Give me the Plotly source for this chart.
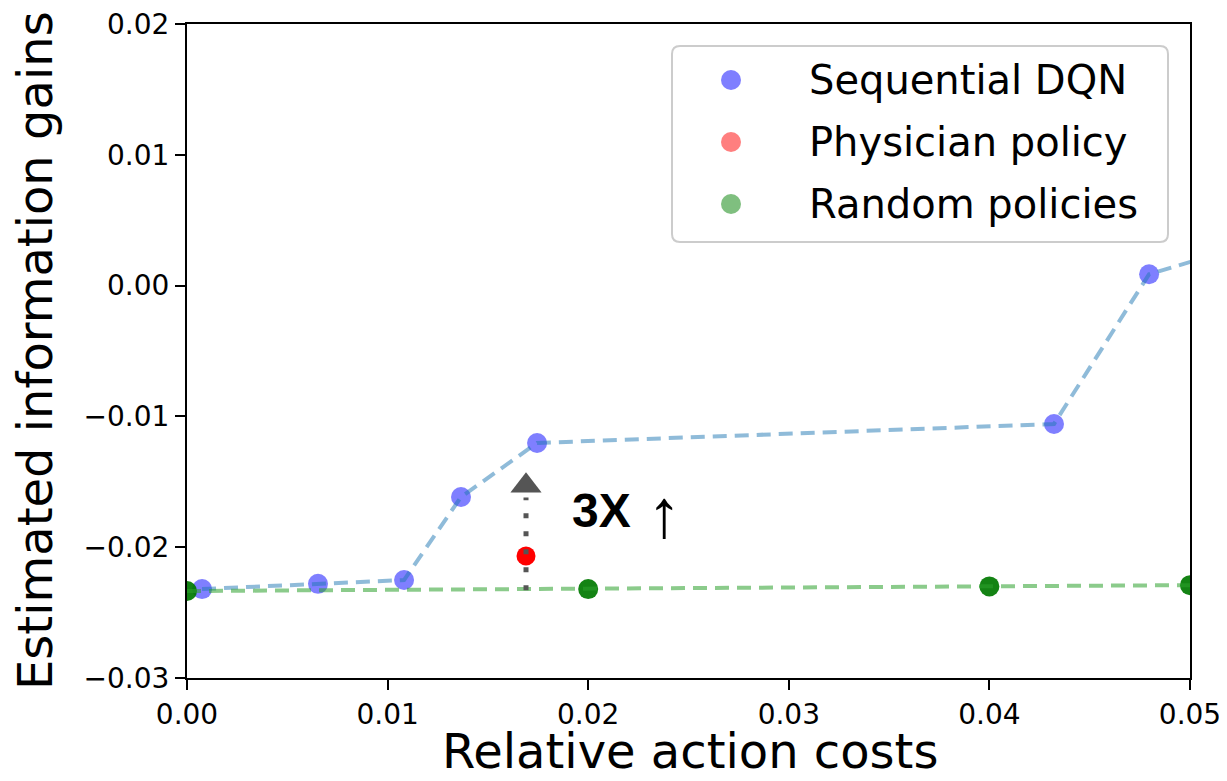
import plotly.graph_objects as go

# ---- data ----
dqn_x = [0.00075, 0.00653, 0.01082, 0.01366, 0.01745, 0.04322, 0.04796, 0.0600]
dqn_y = [-0.0232, -0.0228, -0.02251, -0.01616, -0.01203, -0.01058, 0.00087, 0.0064]
phys_x = [0.0169]
phys_y = [-0.02067]
rand_x = [0.0, 0.02, 0.04, 0.05]
rand_y = [-0.02335, -0.0232, -0.0230, -0.0229]
legend_names = ["Sequential DQN", "Physician policy", "Random policies"]
legend_colors = ["rgba(0,0,255,0.5)", "rgba(255,0,0,0.5)", "rgba(0,128,0,0.5)"]
x_ticks = [0.0, 0.01, 0.02, 0.03, 0.04, 0.05]
y_ticks = [-0.03, -0.02, -0.01, 0.0, 0.01, 0.02]
x_title = "Relative action costs"
y_title = "Estimated information gains"
arrow_x = 0.0169
arrow_y0 = -0.0233
arrow_y1 = -0.0162
arrow_head_y = -0.0153

OFF = 8  # page body margin
W, H = 1227 - OFF, 781 - OFF
L, R, T, B = 187 - OFF, 37, 24 - OFF, 103
PW, PH = W - L - R, H - T - B


def px2paper(px, py):
    # page pixel -> paper coords
    return (px - OFF - L) / PW, (H - B - (py - OFF)) / PH


FONT = "DejaVu Sans"

fig = go.Figure()

# markers
fig.add_trace(go.Scatter(x=dqn_x, y=dqn_y, mode="markers", showlegend=False,
                         marker=dict(color="rgba(0,0,255,0.5)", size=20, line=dict(width=0))))
fig.add_trace(go.Scatter(x=phys_x, y=phys_y, mode="markers", showlegend=False,
                         marker=dict(color="rgb(255,0,0)", size=19, line=dict(width=0))))
fig.add_trace(go.Scatter(x=rand_x, y=rand_y, mode="markers", showlegend=False,
                         marker=dict(color="rgba(0,120,0,0.92)", size=20, line=dict(width=0))))
# dashed lines on top
fig.add_trace(go.Scatter(x=dqn_x, y=dqn_y, mode="lines", showlegend=False,
                         line=dict(color="rgba(31,119,180,0.5)", width=4, dash="14px,8px")))
fig.add_trace(go.Scatter(x=rand_x, y=rand_y, mode="lines", showlegend=False,
                         line=dict(color="rgba(44,160,44,0.55)", width=4, dash="14px,8px")))

# dotted arrow
fig.add_shape(type="line", xref="x", yref="y", x0=arrow_x, x1=arrow_x, y0=arrow_y0, y1=arrow_y1,
              line=dict(color="#555555", width=5, dash="5px,13px"))
fig.add_trace(go.Scatter(x=[arrow_x], y=[arrow_head_y], mode="markers", showlegend=False,
                         marker=dict(symbol="triangle-up", size=27, color="#555555", line=dict(width=0))))

fig.add_annotation(x=0.0191, y=-0.0172, xref="x", yref="y", xanchor="left", yanchor="middle",
                   text="<b>3X</b>", showarrow=False,
                   font=dict(family="Liberation Sans", size=48, color="black"))
fig.add_annotation(x=0.02378, y=-0.01735, xref="x", yref="y", xanchor="center", yanchor="middle",
                   text="\u2191", showarrow=False,
                   font=dict(family="Liberation Sans", size=68, color="black"))

# axis titles
xtx, xty = px2paper(690, 751)
fig.add_annotation(x=xtx, y=xty, xref="paper", yref="paper", xanchor="center", yanchor="middle",
                   text=x_title, showarrow=False, font=dict(family=FONT, size=48, color="black"))
ytx, yty = px2paper(35, 351)
fig.add_annotation(x=ytx, y=yty, xref="paper", yref="paper", xanchor="center", yanchor="middle",
                   text=y_title, textangle=-90, showarrow=False,
                   font=dict(family=FONT, size=48, color="black"))

# custom legend
bx0, by0, bx1, by1, rr = 672, 46, 1168, 242, 8
ax0, ay0 = px2paper(bx0, by0)
ax1, ay1 = px2paper(bx1, by1)
rx, ry = rr / PW, rr / PH
path = (f"M {ax0+rx},{ay0} L {ax1-rx},{ay0} Q {ax1},{ay0} {ax1},{ay0-ry} "
        f"L {ax1},{ay1+ry} Q {ax1},{ay1} {ax1-rx},{ay1} L {ax0+rx},{ay1} "
        f"Q {ax0},{ay1} {ax0},{ay1+ry} L {ax0},{ay0-ry} Q {ax0},{ay0} {ax0+rx},{ay0} Z")
fig.add_shape(type="path", xref="paper", yref="paper", path=path,
              fillcolor="rgba(255,255,255,0.85)", line=dict(color="#cccccc", width=2), layer="above")
row_y = [80, 142, 204]
for name, col, ry_px in zip(legend_names, legend_colors, row_y):
    mx, my = px2paper(731, ry_px)
    fig.add_shape(type="circle", xref="paper", yref="paper", xsizemode="pixel", ysizemode="pixel",
                  xanchor=mx, yanchor=my, x0=-10, x1=10, y0=-10, y1=10,
                  fillcolor=col, line=dict(width=0), layer="above")
    tx, ty = px2paper(807, ry_px)
    fig.add_annotation(x=tx, y=ty, xref="paper", yref="paper", xanchor="left", yanchor="middle",
                       text=name, showarrow=False, font=dict(family=FONT, size=40, color="black"))

axis_common = dict(showline=True, linecolor="black", linewidth=2, mirror=True,
                   ticks="outside", ticklen=10, tickwidth=1.5, tickcolor="black",
                   showgrid=False, zeroline=False, tickformat=".2f",
                   ticklabeloverflow="allow", automargin=False,
                   tickfont=dict(family=FONT, size=28, color="black"))

fig.update_layout(
    width=W, height=H,
    margin=dict(l=L, r=R, t=T, b=B),
    paper_bgcolor="white", plot_bgcolor="white",
    showlegend=False,
    xaxis=dict(range=[0, 0.05], tickvals=x_ticks, **axis_common),
    yaxis=dict(range=[-0.03, 0.02], tickvals=y_ticks, **axis_common),
)

fig.write_html("out.html")
